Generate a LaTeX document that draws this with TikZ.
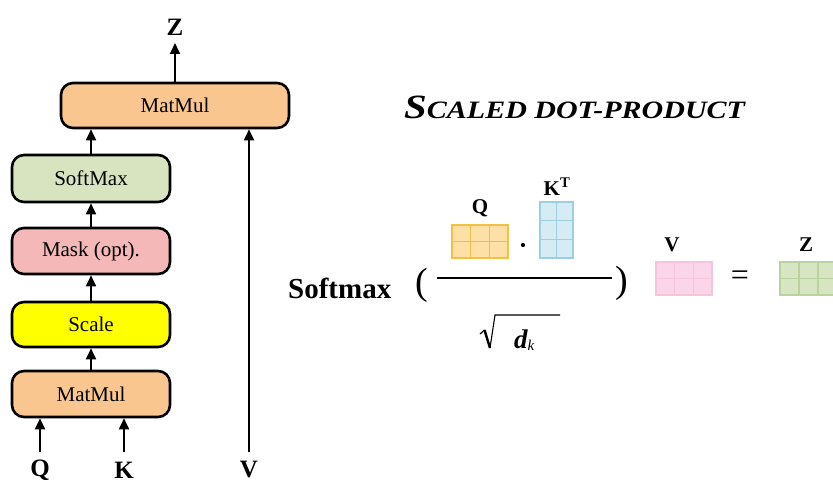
\documentclass[tikz,border=0pt]{standalone}
\usepackage{fontspec}
\setmainfont{Liberation Serif}
\usetikzlibrary{arrows.meta}
\definecolor{cMat}{HTML}{F9C690}
\definecolor{cSoft}{HTML}{D8E4C0}
\definecolor{cMask}{HTML}{F5B8B8}
\definecolor{cScale}{HTML}{FFFF00}
\definecolor{qFill}{HTML}{FCE0A6}
\definecolor{qLine}{HTML}{F2C047}
\definecolor{kFill}{HTML}{D6EBF3}
\definecolor{kLine}{HTML}{9CD0E0}
\definecolor{vFill}{HTML}{FBD5EA}
\definecolor{vLine}{HTML}{F6C4DE}
\definecolor{zFill}{HTML}{D7E5C3}
\definecolor{zLine}{HTML}{BAD29E}
\tikzset{
  opbox/.style={draw=black, line width=2.6pt, rounded corners=12pt, inner sep=0pt,
    font=\fontsize{21}{21}\selectfont},
  flow/.style={line width=1.8pt, -{Triangle[length=11pt,width=10pt]}},
  inlab/.style={font=\fontsize{25}{25}\selectfont\bfseries, inner sep=0pt},
  matlab/.style={font=\fontsize{21}{21}\selectfont\bfseries, inner sep=0pt},
}
% draw a grid of cells: #1 x0, #2 y0, #3 cell w, #4 cell h, #5 cols, #6 rows, #7 fill, #8 line
\newcommand{\cellgrid}[8]{%
  \foreach \ci in {1,...,#5}{\foreach \cj in {1,...,#6}{%
    \draw[fill=#7, draw=#8, line width=1.3pt]
      ({#1+(\ci-1)*#3},{#2+(\cj-1)*#4}) rectangle ++(#3,#4);}}}
\begin{document}
\begin{tikzpicture}[x=1pt,y=-1pt]
\useasboundingbox (0,0) rectangle (833,487);

% attention block
\node[opbox, fill=cMat, minimum width=228pt, minimum height=45pt] (mmtop) at (175,105.5) {MatMul};
\node[opbox, fill=cSoft, minimum width=158pt, minimum height=47pt] (soft) at (91,178.5) {SoftMax};
\node[opbox, fill=cMask, minimum width=158pt, minimum height=46pt] (mask) at (91,251) {Mask (opt).};
\node[opbox, fill=cScale, minimum width=158pt, minimum height=45pt] (scale) at (91,324.5) {Scale};
\node[opbox, fill=cMat, minimum width=158pt, minimum height=46pt] (mmbot) at (91,394) {MatMul};

\node[inlab] (q) at (40,470) {Q};
\node[inlab] (k) at (124,470) {K};
\node[inlab] (v) at (249,470) {V};
\node[inlab] (z) at (175,27) {Z};

\coordinate (qs) at (40,452);
\coordinate (ks) at (124,452);
\coordinate (vs) at (249,452);
\coordinate (zt) at (175,43);

\draw[flow] (qs) -- (qs |- mmbot.south);
\draw[flow] (ks) -- (ks |- mmbot.south);
\draw[flow] (mmbot) -- (scale);
\draw[flow] (scale) -- (mask);
\draw[flow] (mask) -- (soft);
\draw[flow] (soft.north) -- (soft.north |- mmtop.south);
\draw[flow] (vs) -- (vs |- mmtop.south);
\draw[flow] (mmtop) -- (zt);

% title
\node[anchor=base west, inner sep=0pt, xscale=1.2] (title) at (404,118)
  {\bfseries\itshape{\fontsize{34}{34}\selectfont S}{\fontsize{25}{25}\selectfont CALED DOT-PRODUCT}};

% formula
\node[anchor=base west, inner sep=0pt, font=\fontsize{29}{29}\selectfont\bfseries] (sm) at (288,298) {Softmax};
\node[inner sep=0pt, font=\fontsize{38}{38}\selectfont] (lp) at (422,285) {(};
\node[inner sep=0pt, font=\fontsize{38}{38}\selectfont] (rp) at (622,283) {)};
\coordinate (fl) at (437,278);
\coordinate (fr) at (612,278);
\draw[line width=1.2pt] (fl) -- (fr);

\cellgrid{452}{225}{18.67}{16.5}{3}{2}{qFill}{qLine}
\node[matlab] (qm) at (480,208) {Q};
\fill (523,245) circle (2.1pt);
\cellgrid{540}{202}{16.5}{18.67}{2}{3}{kFill}{kLine}
\node[matlab, anchor=base] (kt) at (557,195) {K\textsuperscript{T}};

% denominator
\draw[line width=1.2pt] (480,334) -- (484.5,330);
\draw[line width=2.4pt] (484.5,330) -- (490,348);
\draw[line width=1.1pt] (490,348) -- (495,315) -- (560,315);
\node[anchor=base west, inner sep=0pt] (dk) at (514,348)
  {\fontsize{27}{27}\selectfont\bfseries\itshape d\raisebox{-2pt}{\fontsize{15}{15}\selectfont\mdseries k}};

\cellgrid{656}{262}{18.67}{16.5}{3}{2}{vFill}{vLine}
\node[matlab] (vm) at (672,245) {V};
\node[inner sep=0pt, font=\fontsize{32}{32}\selectfont] (eq) at (740,278) {=};
\cellgrid{780}{262}{19}{16.5}{3}{2}{zFill}{zLine}
\node[matlab] (zm) at (806,245) {Z};
\end{tikzpicture}
\end{document}
